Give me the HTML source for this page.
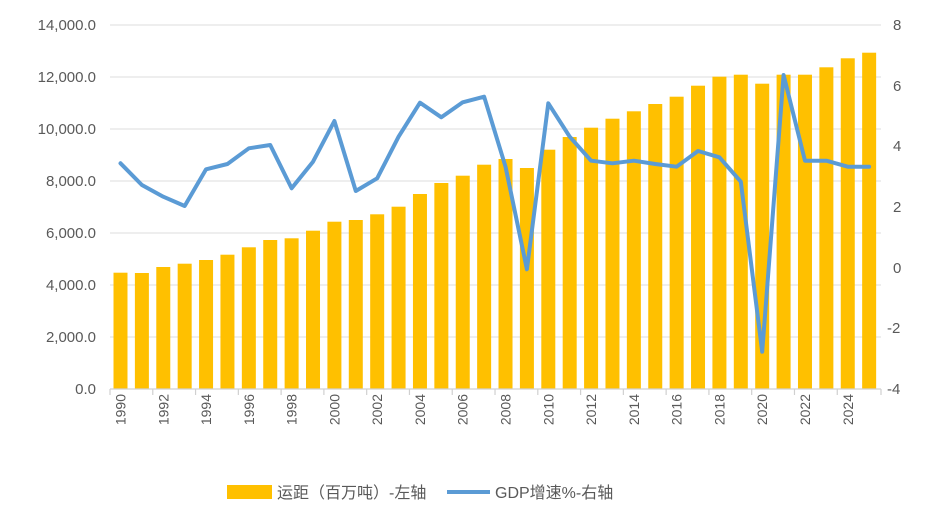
<!DOCTYPE html>
<html><head><meta charset="utf-8"><style>
html,body{margin:0;padding:0;background:#fff;}
svg{display:block;}
text{font-family:"Liberation Sans","Noto Sans CJK SC",sans-serif;fill:#595959;}
</style></head><body>
<svg width="925" height="516" viewBox="0 0 925 516" xmlns="http://www.w3.org/2000/svg">
<g stroke="#e3e3e3" stroke-width="1.2">
<line x1="110" y1="25" x2="881" y2="25"/>
<line x1="110" y1="77" x2="881" y2="77"/>
<line x1="110" y1="129" x2="881" y2="129"/>
<line x1="110" y1="181" x2="881" y2="181"/>
<line x1="110" y1="233" x2="881" y2="233"/>
<line x1="110" y1="285" x2="881" y2="285"/>
<line x1="110" y1="337" x2="881" y2="337"/>
</g>
<g font-size="15" text-anchor="end">
<text x="96" y="30">14,000.0</text>
<text x="96" y="82">12,000.0</text>
<text x="96" y="134">10,000.0</text>
<text x="96" y="186">8,000.0</text>
<text x="96" y="238">6,000.0</text>
<text x="96" y="290">4,000.0</text>
<text x="96" y="342">2,000.0</text>
<text x="96" y="394">0.0</text>
</g>
<g font-size="15" text-anchor="start">
<text x="893" y="30">8</text>
<text x="893" y="91">6</text>
<text x="893" y="151">4</text>
<text x="893" y="212">2</text>
<text x="893" y="273">0</text>
<text x="887" y="333">-2</text>
<text x="887" y="394">-4</text>
</g>
<g fill="#ffc000" id="bars"></g>
<line x1="110" y1="389" x2="881" y2="389" stroke="#d0d0d0" stroke-width="1.2"/>
<g id="ticks" stroke="#d0d0d0" stroke-width="1.2"></g>
<g id="labels" font-size="14"></g>
<polyline id="gdp" fill="none" stroke="#5b9bd5" stroke-width="4" stroke-linejoin="round" stroke-linecap="round" points=""/>
<rect x="227" y="485" width="45" height="14" fill="#ffc000"/>
<text x="277" y="498" font-size="16">运距（百万吨）-左轴</text>
<line x1="447" y1="492" x2="490" y2="492" stroke="#5b9bd5" stroke-width="4"/>
<text x="495" y="498" font-size="16">GDP增速%-右轴</text>
</svg>
<script>
var tops=[272.7,273,267,263.7,260,254.7,247.3,240,238.3,230.7,221.7,220,214.3,206.7,194,183,175.7,164.7,159,168,149.7,137,127.7,118.7,111.3,104,96.7,85.7,76.7,74.7,83.7,74.7,74.7,67.3,58.3,52.7];
var ly=[163.3,185,196.7,206,169.3,164,148.3,145,188.3,161.7,121,191,178.3,136.7,102.7,117.3,102.3,96.7,166.7,269.3,103.3,136.7,160.7,163.3,160.7,164,166.7,151,157.3,181.7,351.7,75,160.7,160.7,166.7,166.7];
var ns="http://www.w3.org/2000/svg",b=document.getElementById('bars'),t=document.getElementById('ticks'),l=document.getElementById('labels'),pts=[];
for(var i=0;i<36;i++){var cx=120.5+i*21.39;
var r=document.createElementNS(ns,'rect');r.setAttribute('x',cx-7);r.setAttribute('y',tops[i]);r.setAttribute('width',14);r.setAttribute('height',389-tops[i]);b.appendChild(r);
pts.push(cx+','+ly[i]);
if(i%2==0){var ln=document.createElementNS(ns,'line');var tx=110+i*21.39;ln.setAttribute('x1',tx);ln.setAttribute('x2',tx);ln.setAttribute('y1',389);ln.setAttribute('y2',395);t.appendChild(ln);
var tt=document.createElementNS(ns,'text');tt.setAttribute('transform','translate('+(cx+5)+',394) rotate(-90)');tt.setAttribute('text-anchor','end');tt.textContent=1990+i;l.appendChild(tt);}}
var ln=document.createElementNS(ns,'line');ln.setAttribute('x1',881);ln.setAttribute('x2',881);ln.setAttribute('y1',389);ln.setAttribute('y2',395);t.appendChild(ln);
document.getElementById('gdp').setAttribute('points',pts.join(' '));
</script>
</body></html>
